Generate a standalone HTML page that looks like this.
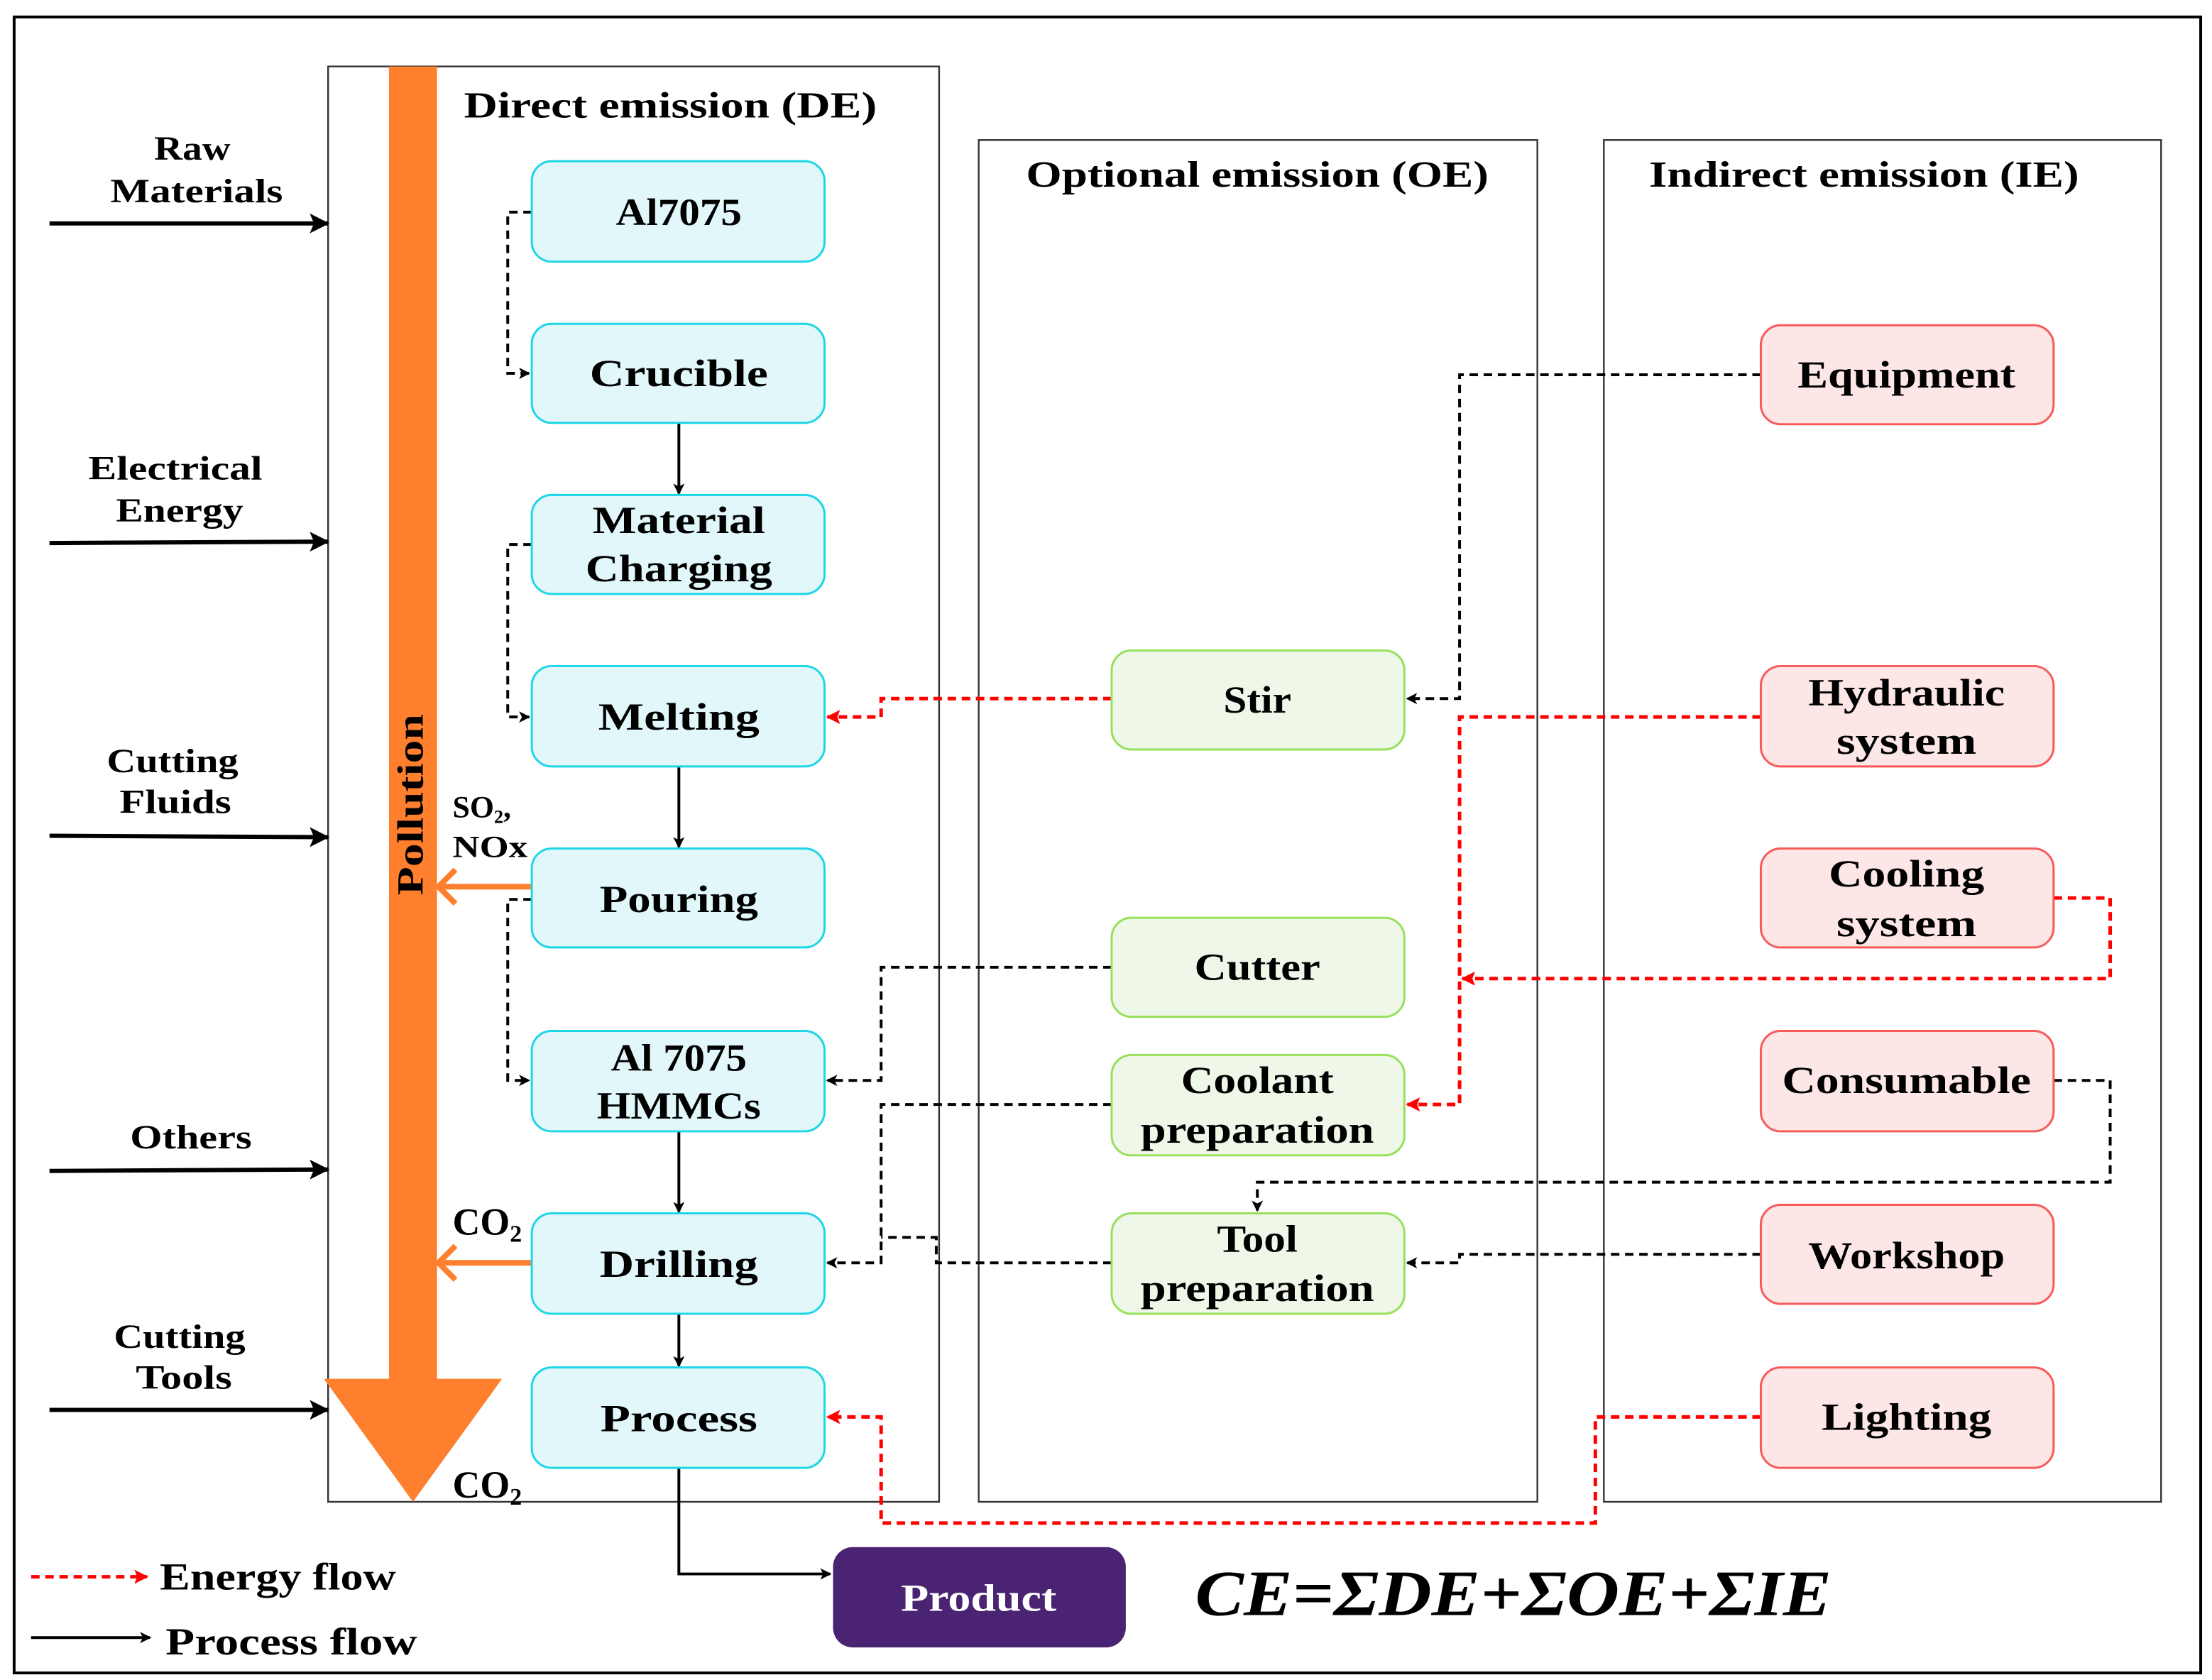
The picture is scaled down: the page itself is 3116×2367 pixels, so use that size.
<!DOCTYPE html>
<html><head><meta charset="utf-8"><style>html,body{margin:0;padding:0;background:#fff}svg{display:block}</style></head>
<body>
<svg width="3116" height="2367" viewBox="0 0 1564 1188" preserveAspectRatio="none" xmlns="http://www.w3.org/2000/svg" font-family="'Liberation Serif', serif" font-weight="bold">
<defs>
<marker id="ab" markerWidth="8" markerHeight="8" refX="7" refY="4" orient="auto" markerUnits="userSpaceOnUse"><path d="M0,0 L8,4 L0,8 L2,4 z" fill="#000"/></marker>
<marker id="abL" markerWidth="14" markerHeight="14" refX="13" refY="7" orient="auto" markerUnits="userSpaceOnUse"><path d="M0,0 L14,7 L0,14 L3,7 z" fill="#000"/></marker>
<marker id="ar" markerWidth="10" markerHeight="10" refX="9" refY="5" orient="auto" markerUnits="userSpaceOnUse"><path d="M0,0 L10,5 L0,10 L2,5 z" fill="#f00"/></marker>
</defs>
<rect x="0" y="0" width="1564" height="1188" fill="#fff"/>
<rect x="10" y="12" width="1546" height="1171" fill="none" stroke="#000" stroke-width="2"/>
<rect x="232" y="47" width="432" height="1015" fill="none" stroke="#333" stroke-width="1.2"/>
<rect x="692" y="99" width="395" height="963" fill="none" stroke="#333" stroke-width="1.2"/>
<rect x="1134" y="99" width="394" height="963" fill="none" stroke="#333" stroke-width="1.2"/>
<g font-size="26" text-anchor="middle" lengthAdjust="spacingAndGlyphs">
<text x="474" y="83" textLength="292" lengthAdjust="spacingAndGlyphs">Direct emission (DE)</text>
<text x="889" y="132" textLength="327" lengthAdjust="spacingAndGlyphs">Optional emission (OE)</text>
<text x="1318" y="132" textLength="304" lengthAdjust="spacingAndGlyphs">Indirect emission (IE)</text>
</g>
<!-- pollution -->
<rect x="275" y="47" width="34" height="930" fill="#fe7f2d"/>
<polygon points="229,975 355,975 292,1062" fill="#fe7f2d"/>
<text transform="translate(299,569) rotate(-90)" font-size="26" text-anchor="middle" textLength="128" lengthAdjust="spacingAndGlyphs">Pollution</text>
<g stroke="#fe7f2d" stroke-width="4" fill="none">
<line x1="376" y1="627" x2="312" y2="627"/><polyline points="322,615 310,627 322,639"/>
<line x1="376" y1="893" x2="312" y2="893"/><polyline points="322,881 310,893 322,905"/>
</g>
<g font-size="22"><text x="320" y="578">SO<tspan font-size="13" dy="4">2</tspan><tspan dy="-4">,</tspan></text><text x="320" y="606" textLength="53" lengthAdjust="spacingAndGlyphs">NOx</text>
<text x="320" y="873" font-size="27">CO<tspan font-size="17" dy="5">2</tspan></text>
<text x="320" y="1059" font-size="27">CO<tspan font-size="17" dy="5">2</tspan></text></g>
<!-- left inputs -->
<g stroke="#000" stroke-width="3" marker-end="url(#abL)">
<line x1="35" y1="158" x2="232" y2="158"/><line x1="35" y1="384" x2="232" y2="383"/><line x1="35" y1="591" x2="232" y2="592"/><line x1="35" y1="828" x2="232" y2="827"/><line x1="35" y1="997" x2="232" y2="997"/>
</g>
<g font-size="24" text-anchor="middle">
<text x="136" y="113" textLength="54" lengthAdjust="spacingAndGlyphs">Raw</text><text x="139" y="143" textLength="122" lengthAdjust="spacingAndGlyphs">Materials</text>
<text x="124" y="339" textLength="123" lengthAdjust="spacingAndGlyphs">Electrical</text><text x="127" y="369" textLength="90" lengthAdjust="spacingAndGlyphs">Energy</text>
<text x="122" y="546" textLength="93" lengthAdjust="spacingAndGlyphs">Cutting</text><text x="124" y="575" textLength="79" lengthAdjust="spacingAndGlyphs">Fluids</text>
<text x="135" y="812" textLength="86" lengthAdjust="spacingAndGlyphs">Others</text>
<text x="127" y="953" textLength="93" lengthAdjust="spacingAndGlyphs">Cutting</text><text x="130" y="982" textLength="68" lengthAdjust="spacingAndGlyphs">Tools</text>
</g>
<!-- connectors -->
<g fill="none" stroke="#000" stroke-width="2" stroke-dasharray="6,4">
<polyline points="376,150 359,150 359,264 374,264" marker-end="url(#ab)"/>
<polyline points="376,385 359,385 359,507 374,507" marker-end="url(#ab)"/>
<polyline points="376,636 359,636 359,764 374,764" marker-end="url(#ab)"/>
<polyline points="1245,265 1032,265 1032,494 995,494" marker-end="url(#ab)"/>
<polyline points="786,684 623,684 623,764 585,764" marker-end="url(#ab)"/>
<polyline points="786,781 623,781 623,893 585,893" marker-end="url(#ab)"/>
<polyline points="786,893 662,893 662,875 623,875"/>
<polyline points="1452,764 1492,764 1492,836 889,836 889,856" marker-end="url(#ab)"/>
<polyline points="1245,887 1032,887 1032,893 995,893" marker-end="url(#ab)"/>
</g>
<g fill="none" stroke="#f00" stroke-width="2.5" stroke-dasharray="6,4">
<polyline points="786,494 623,494 623,507 585,507" marker-end="url(#ar)"/>
<polyline points="1245,507 1032,507 1032,781 995,781" marker-end="url(#ar)"/>
<polyline points="1452,635 1492,635 1492,692 1034,692" marker-end="url(#ar)"/>
<polyline points="1245,1002 1128,1002 1128,1077 623,1077 623,1002 585,1002" marker-end="url(#ar)"/>
</g>
<g stroke="#000" stroke-width="2" fill="none" marker-end="url(#ab)">
<line x1="480" y1="299" x2="480" y2="349"/><line x1="480" y1="542" x2="480" y2="599"/>
<line x1="480" y1="800" x2="480" y2="857"/><line x1="480" y1="929" x2="480" y2="966"/>
<polyline points="480,1038 480,1113 587,1113"/>
</g>
<g fill="#e1f7fa" stroke="#1dd6e6" stroke-width="1.5">
<rect x="376" y="114" width="207" height="71" rx="14"/><rect x="376" y="229" width="207" height="70" rx="14"/>
<rect x="376" y="350" width="207" height="70" rx="14"/><rect x="376" y="471" width="207" height="71" rx="14"/>
<rect x="376" y="600" width="207" height="70" rx="14"/><rect x="376" y="729" width="207" height="71" rx="14"/>
<rect x="376" y="858" width="207" height="71" rx="14"/><rect x="376" y="967" width="207" height="71" rx="14"/>
</g>
<g fill="#eff7e8" stroke="#96e05a" stroke-width="1.5">
<rect x="786" y="460" width="207" height="70" rx="14"/><rect x="786" y="649" width="207" height="70" rx="14"/>
<rect x="786" y="746" width="207" height="71" rx="14"/><rect x="786" y="858" width="207" height="71" rx="14"/>
</g>
<g fill="#fde6e6" stroke="#f85a5a" stroke-width="1.5">
<rect x="1245" y="230" width="207" height="70" rx="14"/><rect x="1245" y="471" width="207" height="71" rx="14"/>
<rect x="1245" y="600" width="207" height="70" rx="14"/><rect x="1245" y="729" width="207" height="71" rx="14"/>
<rect x="1245" y="852" width="207" height="70" rx="14"/><rect x="1245" y="967" width="207" height="71" rx="14"/>
</g>
<rect x="589" y="1094" width="207" height="71" rx="14" fill="#4a2472"/>
<g font-size="27" text-anchor="middle">
<text x="480" y="159" textLength="89" lengthAdjust="spacingAndGlyphs">Al7075</text>
<text x="480" y="273" textLength="126" lengthAdjust="spacingAndGlyphs">Crucible</text>
<text x="480" y="377" textLength="122" lengthAdjust="spacingAndGlyphs">Material</text>
<text x="480" y="411" textLength="132" lengthAdjust="spacingAndGlyphs">Charging</text>
<text x="480" y="516" textLength="114" lengthAdjust="spacingAndGlyphs">Melting</text>
<text x="480" y="645" textLength="112" lengthAdjust="spacingAndGlyphs">Pouring</text>
<text x="480" y="757" textLength="96" lengthAdjust="spacingAndGlyphs">Al 7075</text>
<text x="480" y="791" textLength="116" lengthAdjust="spacingAndGlyphs">HMMCs</text>
<text x="480" y="903" textLength="112" lengthAdjust="spacingAndGlyphs">Drilling</text>
<text x="480" y="1012" textLength="111" lengthAdjust="spacingAndGlyphs">Process</text>
<text x="889" y="504" textLength="48" lengthAdjust="spacingAndGlyphs">Stir</text>
<text x="889" y="693" textLength="89" lengthAdjust="spacingAndGlyphs">Cutter</text>
<text x="889" y="773" textLength="108" lengthAdjust="spacingAndGlyphs">Coolant</text>
<text x="889" y="808" textLength="165" lengthAdjust="spacingAndGlyphs">preparation</text>
<text x="889" y="885" textLength="57" lengthAdjust="spacingAndGlyphs">Tool</text>
<text x="889" y="920" textLength="165" lengthAdjust="spacingAndGlyphs">preparation</text>
<text x="1348" y="274" textLength="154" lengthAdjust="spacingAndGlyphs">Equipment</text>
<text x="1348" y="499" textLength="139" lengthAdjust="spacingAndGlyphs">Hydraulic</text>
<text x="1348" y="533" textLength="99" lengthAdjust="spacingAndGlyphs">system</text>
<text x="1348" y="627" textLength="110" lengthAdjust="spacingAndGlyphs">Cooling</text>
<text x="1348" y="662" textLength="99" lengthAdjust="spacingAndGlyphs">system</text>
<text x="1348" y="773" textLength="176" lengthAdjust="spacingAndGlyphs">Consumable</text>
<text x="1348" y="897" textLength="139" lengthAdjust="spacingAndGlyphs">Workshop</text>
<text x="1348" y="1011" textLength="120" lengthAdjust="spacingAndGlyphs">Lighting</text>
<text x="692" y="1139" fill="#fff" textLength="110" lengthAdjust="spacingAndGlyphs">Product</text>
</g>
<line x1="22" y1="1115" x2="104" y2="1115" stroke="#f00" stroke-width="2.5" stroke-dasharray="6,4" marker-end="url(#ar)"/>
<line x1="22" y1="1158" x2="106" y2="1158" stroke="#000" stroke-width="2" marker-end="url(#ab)"/>
<text x="113" y="1124" font-size="27" textLength="167" lengthAdjust="spacingAndGlyphs">Energy flow</text>
<text x="117" y="1170" font-size="27" textLength="178" lengthAdjust="spacingAndGlyphs">Process flow</text>
<text x="845" y="1142" font-size="46" font-style="italic" textLength="450" lengthAdjust="spacingAndGlyphs">CE=ΣDE+ΣOE+ΣIE</text>
</svg>
</body></html>
